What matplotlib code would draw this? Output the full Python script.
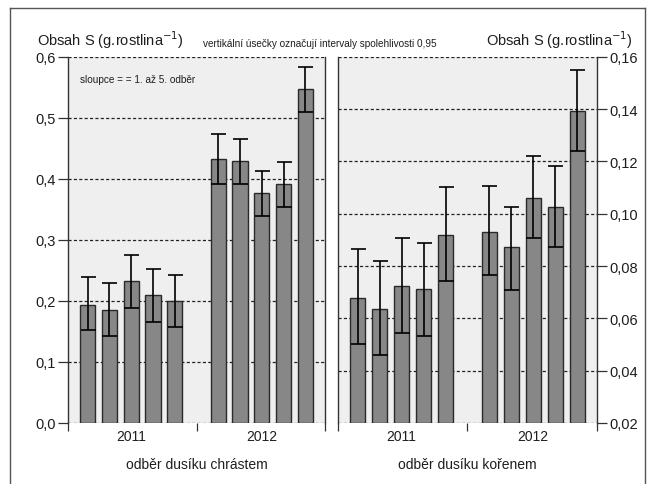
import matplotlib
matplotlib.use('Agg')
import matplotlib.pyplot as plt
import numpy as np
from matplotlib.ticker import FuncFormatter
from matplotlib.lines import Line2D

plt.rcParams['font.family'] = ['Liberation Sans', 'DejaVu Sans']

years = ['2011', '2012']
# 5 odberu v kazdem roce, hodnoty odectene z grafu
# odber dusiku chrastem (leva osa)
shoot_mean = [0.194, 0.185, 0.232, 0.209, 0.200, 0.433, 0.430, 0.377, 0.392, 0.548]
shoot_hi = [0.239, 0.230, 0.275, 0.252, 0.243, 0.474, 0.466, 0.413, 0.428, 0.584]
shoot_lo = [0.153, 0.142, 0.188, 0.166, 0.157, 0.392, 0.392, 0.339, 0.354, 0.509]
# odber dusiku korenem (prava osa)
root_mean = [0.0679, 0.0637, 0.0723, 0.0711, 0.0920, 0.0931, 0.0871, 0.1061, 0.1024, 0.1392]
root_hi = [0.0864, 0.0821, 0.0907, 0.0889, 0.1103, 0.1105, 0.1024, 0.1219, 0.1182, 0.1550]
root_lo = [0.0502, 0.0460, 0.0545, 0.0534, 0.0742, 0.0767, 0.0710, 0.0907, 0.0871, 0.1238]

shoot_ticks = [0.0, 0.1, 0.2, 0.3, 0.4, 0.5, 0.6]
root_ticks = [0.02, 0.04, 0.06, 0.08, 0.10, 0.12, 0.14, 0.16]

n_per_year = 5
pos = np.array([g * (n_per_year + 1) + i for g in range(len(years)) for i in range(n_per_year)])

bar_color = '#878787'
edge_color = '#2a2a2a'
panel_bg = '#eeefee'
text_color = '#1e1e1e'

fig = plt.figure(figsize=(6.49, 4.85), dpi=100)
fig.patch.set_facecolor('white')

# ramecek kolem obrazku
for xs, ys in [([0.0154, 0.0154], [0.0, 0.981]), ([0.0154, 0.994], [0.981, 0.981]),
               ([0.994, 0.994], [0.0, 0.981])]:
    fig.add_artist(Line2D(xs, ys, color='#555555', lw=1.0, transform=fig.transFigure))

comma = FuncFormatter(lambda v, p: ('%.1f' % v).replace('.', ','))
comma2 = FuncFormatter(lambda v, p: ('%.2f' % v).replace('.', ','))

axL = fig.add_axes([0.1048, 0.1258, 0.396, 0.755])
axR = fig.add_axes([0.5208, 0.1258, 0.399, 0.755])

panels = [
    (axL, shoot_mean, shoot_lo, shoot_hi, shoot_ticks, comma, 'left', 'odběr dusíku chrástem'),
    (axR, root_mean, root_lo, root_hi, root_ticks, comma2, 'right', 'odběr dusíku kořenem'),
]

for ax, mean, lo, hi, ticks, fmt, side, xlab in panels:
    mean = np.array(mean)
    lo = np.array(lo)
    hi = np.array(hi)
    ax.set_facecolor(panel_bg)
    ax.set_ylim(ticks[0], ticks[-1])
    ax.set_xlim(5 - 5.9, 5 + 5.9)
    for t in ticks:
        ax.axhline(t, color='#222222', lw=0.9, ls=(0, (2.5, 1.8)), zorder=1)
    ax.bar(pos, mean - ticks[0], bottom=ticks[0], width=0.7, color=bar_color,
           edgecolor=edge_color, linewidth=1.0, zorder=2)
    ax.errorbar(pos, mean, yerr=[mean - lo, hi - mean], fmt='none', ecolor='black',
                elinewidth=1.2, capsize=5.4, capthick=1.2, zorder=3)
    ax.set_yticks(ticks)
    ax.yaxis.set_major_formatter(fmt)
    ax.spines['top'].set_visible(False)
    ax.spines['bottom'].set_visible(False)
    for s in ['left', 'right']:
        ax.spines[s].set_color('#333333')
        ax.spines[s].set_linewidth(1.0)
    if side == 'left':
        ax.yaxis.tick_left()
    else:
        ax.yaxis.tick_right()
    ax.tick_params(axis='y', length=7, width=0.9, color='#333333', labelsize=10.5,
                   labelcolor=text_color, pad=2)
    ax.set_xticks([5 - 5.9, 5, 5 + 5.9])
    ax.set_xticklabels([])
    ax.tick_params(axis='x', length=6, width=0.9, color='#333333')
    for g, yr in enumerate(years):
        xc = g * (n_per_year + 1) + (n_per_year - 1) / 2
        ax.text(xc, -0.035, yr, transform=ax.get_xaxis_transform(), ha='center', va='center',
                fontsize=10, color=text_color)
    ax.text(0.5, -0.112, xlab, transform=ax.transAxes, ha='center', va='center',
            fontsize=10, color=text_color)

fig.text(0.057, 0.918, 'Obsah S (g.rostlina$^{-1}$)', ha='left', va='center',
         fontsize=10.5, color=text_color)
fig.text(0.975, 0.918, 'Obsah S (g.rostlina$^{-1}$)', ha='right', va='center',
         fontsize=10.5, color=text_color)
fig.text(0.493, 0.909, 'vertikální úsečky označují intervaly spolehlivosti 0,95',
         ha='center', va='center', fontsize=7.2, color=text_color)
axL.text(0.045, 0.94, 'sloupce = = 1. až 5. odběr', transform=axL.transAxes,
         ha='left', va='center', fontsize=7.2, color=text_color)

fig.savefig('out.png', dpi=100)
